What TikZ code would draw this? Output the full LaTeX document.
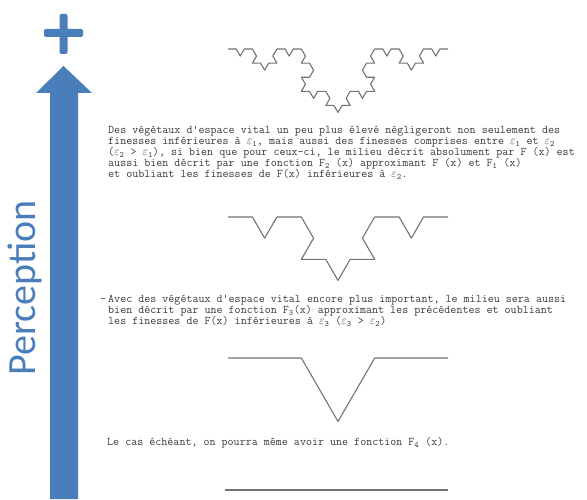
\documentclass[tikz,border=0pt]{standalone}
\usepackage{fontspec}
\usetikzlibrary{decorations.fractals}
\newfontfamily\calib{Carlito}
\definecolor{pblue}{HTML}{4A7EBB}
\definecolor{ink}{HTML}{3C3C3C}
\newcommand{\ep}[1]{$\varepsilon$\textsubscript{#1}}
\newcommand{\Fn}[1]{F\textsubscript{#1}}
\tikzset{
  kochline/.style={draw=black!55, line width=1.1pt, line join=round, decoration=Koch snowflake},
  doc/.style={font=\ttfamily\addfontfeatures{FakeBold=0.5}\fontsize{11.7}{10.9}\selectfont, text=ink, align=left, anchor=base west, inner sep=0pt},
  percep/.style={rotate=90, font=\calib\fontsize{40}{40}\selectfont, text=pblue, inner sep=0pt}
}
\begin{document}
\begin{tikzpicture}[x=1pt,y=1pt]
\useasboundingbox (0,0) rectangle (587,499);
\fill[white] (0,0) rectangle (587,499);
% arrow and plus
\fill[pblue] (50,0) -- (50,406) -- (36,406) -- (63.5,433) -- (92,406) -- (78,406) -- (78,0) -- cycle;
\fill[pblue, rounded corners=2pt] (44,462) rectangle (83,470);
\fill[pblue, rounded corners=2pt] (59.5,445) rectangle (67.5,485);
\node[percep] (perc) at (25,211) {Perception};
% curves (drawn right to left so that the bumps point downwards)
\draw[kochline] decorate{decorate{decorate{(448,450) -- (228,450)}}};
\draw[kochline] decorate{decorate{(448,282) -- (228,282)}};
\draw[kochline] decorate{(448,141) -- (228,141)};
\draw[kochline] (225,9) -- (448,9);
% texts (anchor = baseline of the last line)
\node[doc] (t1) at (108,321.5) {Des végétaux d'espace vital un peu plus élevé négligeront non seulement des\\
finesses inférieures à \ep{1}, mais aussi des finesses comprises entre \ep{1} et \ep{2}\\
(\ep{2} > \ep{1}), si bien que pour ceux-ci, le milieu décrit absolument par F (x) est\\
aussi bien décrit par une fonction \Fn{2} (x) approximant F (x) et \Fn{1} (x)\\
et oubliant les finesses de F(x) inférieures à \ep{2}.};
\node[doc] (dash) at (100,196.5) {-};
\node[doc] (t2) at (108,174.5) {Avec des végétaux d'espace vital encore plus important, le milieu sera aussi\\
bien décrit par une fonction \Fn{3}(x) approximant les précédentes et oubliant\\
les finesses de F(x) inférieures à \ep{3} (\ep{3} > \ep{2})};
\node[doc] (t3) at (107,53.5) {Le cas échéant, on pourra même avoir une fonction \Fn{4} (x).};
\end{tikzpicture}
\end{document}
